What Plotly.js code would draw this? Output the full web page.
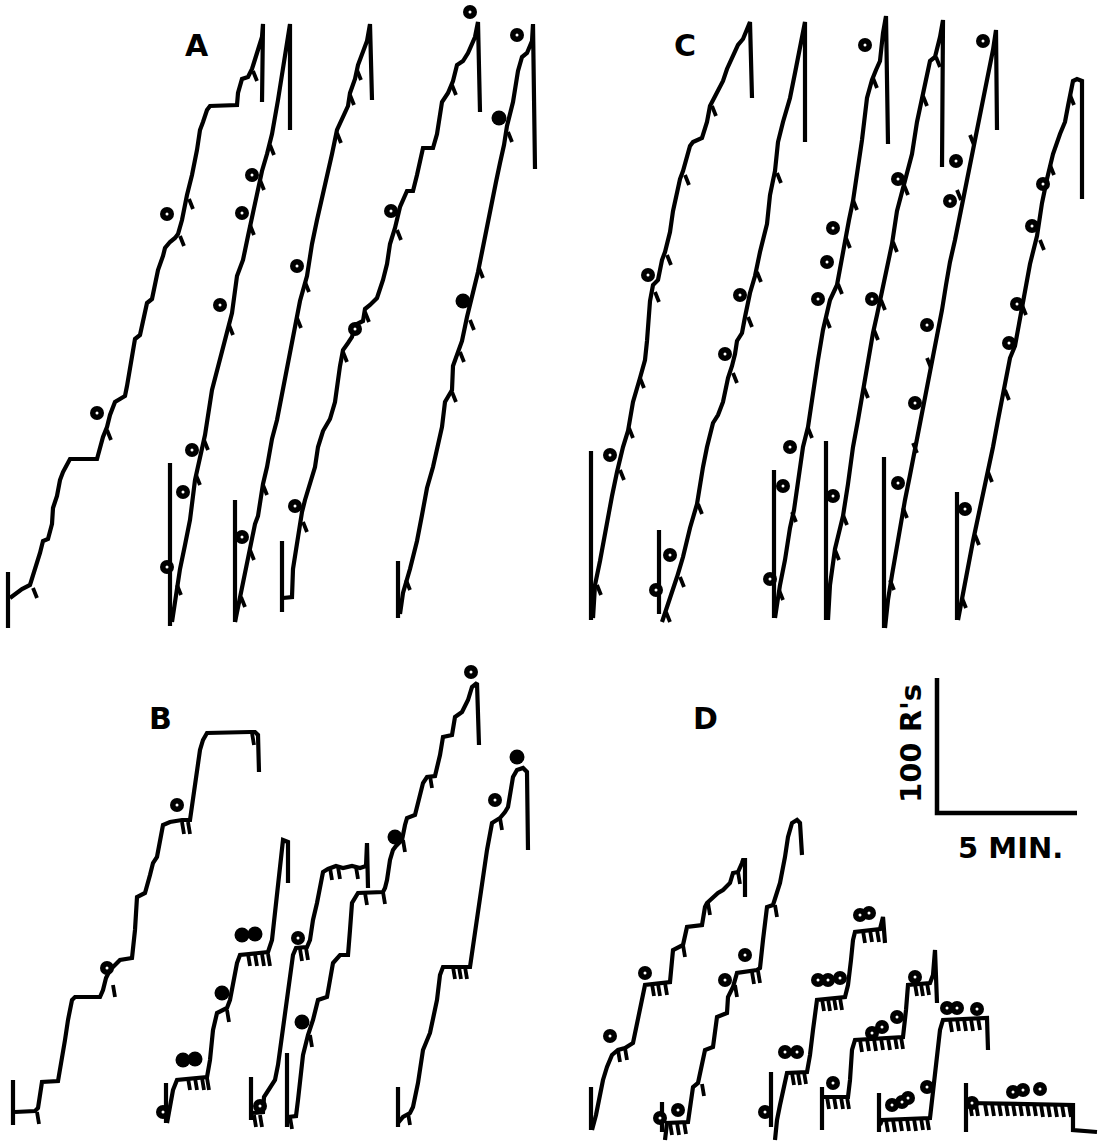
<!DOCTYPE html>
<html><head><meta charset="utf-8">
<script src="https://cdn.plot.ly/plotly-3.0.1.min.js"></script>
<style>html,body{margin:0;padding:0;background:#fff}#chart{width:1106px;height:1144px}</style>
</head><body><div id="chart"></div>
<script>
// Cumulative records in record-paper units
// (t = paper distance along time, n = paper position of the response pen; n grows downward on the sheet)

// ---------- Panel A ----------
const A1_t = [10,22,30,35,38,40,43,48,52,53,57,60,63,70,97,100,103,107,110,115,125,127,130,133,135,140,142,145,147,152,155,158,163,165,170,175,178,182,187,192,197,200,203,207,210,237,238,242,248,252,257,262,263,262];
const A1_n = [598,589,585,569,561,553,541,539,524,508,496,480,472,459,459,447,437,427,415,402,396,386,366,350,339,335,325,313,303,299,285,270,256,248,242,238,234,220,195,175,150,130,122,110,106,105,93,79,77,69,53,37,24,102];
const A2_t = [172,175,180,185,190,195,200,205,212,220,227,232,237,243,248,253,258,262,267,272,278,283,287,290,290];
const A2_n = [622,602,569,545,520,480,455,435,390,358,333,313,276,260,236,211,191,171,154,134,100,70,45,24,130];
const A3_t = [235,240,247,250,255,258,263,267,272,277,282,287,290,295,300,307,312,317,322,327,332,337,343,348,350,355,358,363,367,370,372];
const A3_n = [622,598,561,549,524,516,484,467,439,420,395,370,354,329,301,276,244,220,199,175,154,130,118,106,93,79,65,53,41,24,100];
const A4_t = [283,292,293,297,302,305,312,315,318,323,330,335,340,343,348,352,355,363,365,370,377,383,387,390,395,400,407,413,417,423,433,437,442,448,453,457,463,468,475,478,480];
const A4_n = [598,597,569,541,512,500,476,467,447,431,419,402,366,350,343,337,325,321,309,305,298,280,264,244,228,207,191,191,175,148,148,134,102,93,81,65,61,53,37,22,112];
const A5_t = [400,403,410,417,422,427,433,437,442,445,452,453,458,462,467,473,478,482,487,492,496,500,504,507,510,513,518,522,527,532,533,535];
const A5_n = [614,593,569,541,515,488,467,447,427,402,390,366,352,341,317,293,272,252,225,199,182,163,145,126,114,102,71,57,53,41,24,169];
const A_tick_t = [8,170,235,282,398];
const A_tick_top = [572,463,500,541,561];
const A_tick_bot = [628,626,622,612,618];
const A_pip_t = [33,107,180,189,253, 177,196,204,229,250,260,270, 241,250,263,297,305,337,350,357, 303,343,365,397,452, 406,452,460,470,479,508];
const A_pip_n = [588,430,236,199,71, 585,475,440,325,225,180,145, 597,550,485,318,282,133,95,70, 522,352,312,230,85, 580,392,352,320,268,132];
const A_ring_t = [97,167,167,183,192,220,242,252,242,297,295,355,391,470,517];
const A_ring_n = [413,214,567,492,450,305,213,175,537,266,506,329,211,12,35];
const A_fill_t = [499,463];
const A_fill_n = [118,301];

// ---------- Panel C ----------
const C1_t = [593,595,600,607,612,617,623,628,633,640,645,647,650,653,658,662,665,670,673,680,683,690,693,702,707,710,717,723,727,733,738,743,750,752];
const C1_n = [618,585,561,520,496,472,447,431,402,378,360,341,301,285,280,260,252,232,211,179,171,146,142,138,122,106,93,81,69,57,45,39,22,98];
const C2_t = [662,665,670,677,683,690,697,703,707,713,718,723,728,732,735,737,742,745,750,755,760,767,770,775,778,783,790,795,800,805,805];
const C2_n = [622,614,598,577,557,528,504,467,447,423,415,402,378,366,354,341,333,317,293,276,252,224,195,171,142,122,98,73,49,22,142];
const C3_t = [775,777,780,785,790,794,797,800,803,808,813,818,823,830,837,841,845,849,853,857,862,867,872,876,880,883,886,888];
const C3_n = [618,605,585,560,528,510,488,468,447,427,390,360,330,300,285,262,240,220,201,175,140,98,80,70,61,33,16,144];
const C4_t = [828,830,835,840,843,848,853,858,863,868,873,877,880,884,887,892,897,903,908,912,917,922,926,930,935,940,943,942];
const C4_n = [620,585,549,530,516,484,447,420,390,360,333,315,301,285,272,244,211,187,170,154,122,98,80,61,57,37,20,167];
const C5_t = [885,888,892,896,900,905,910,915,920,924,928,933,938,942,946,950,955,959,963,967,971,975,979,983,987,990,993,996,997];
const C5_n = [628,600,575,550,525,500,475,450,425,405,380,355,330,310,285,262,240,218,200,180,160,140,118,100,82,65,50,30,130];
const C6_t = [958,962,967,973,980,987,993,998,1003,1010,1015,1020,1025,1030,1037,1042,1047,1053,1060,1065,1068,1073,1077,1082,1082];
const C6_n = [620,598,575,541,508,476,447,420,394,358,346,317,293,264,236,203,179,154,134,122,106,81,79,81,199];
const C_tick_t = [591,659,774,826,884,957];
const C_tick_top = [451,530,470,441,457,492];
const C_tick_bot = [620,614,618,620,628,620];
const C_pip_t = [597,620,629,640,655,667,685,712, 666,680,698,733,748,757,777, 779,792,808,826,838,846,853,873, 835,843,864,874,881,893,904,923,936, 890,903,913,927,957,970, 962,975,988,1005,1022,1040,1050,1070];
const C_pip_n = [585,470,428,378,292,255,175,106, 612,577,504,373,317,272,173, 590,512,428,318,284,238,200,78, 550,515,388,330,300,242,185,96,57, 580,508,443,358,190,135, 598,535,472,390,305,240,165,95];
const C_ring_t = [610,648,656,670,725,740,770,783,790,818,827,833,865,833,872,898,898,915,927,950,956,983,965,1009,1017,1032,1043];
const C_ring_n = [455,275,590,555,354,295,579,486,447,299,262,228,45,496,299,179,483,403,325,201,161,41,509,343,304,226,184];

// ---------- Panel B ----------
const B1_t = [15,35,38,40,42,58,62,65,68,72,75,100,103,106,110,120,132,135,137,145,150,153,157,160,163,170,182,190,193,197,200,203,207,250,255,258,259];
const B1_n = [1112,1111,1108,1095,1082,1081,1060,1040,1020,1000,997,997,990,978,970,960,958,930,897,893,875,863,857,840,825,822,820,820,800,770,750,740,733,732,732,735,772];
const B2_t = [167,170,173,177,207,210,213,217,222,227,230,233,237,240,268,272,275,278,281,283,288,288];
const B2_n = [1123,1105,1090,1080,1077,1060,1030,1013,1010,1008,1000,983,963,955,952,940,915,890,860,840,842,883];
const B3_t = [252,263,264,270,275,278,282,286,290,293,296,307,310,313,317,320,323,328,336,343,352,360,366,367,368];
const B3_n = [1113,1112,1097,1088,1080,1065,1035,1005,975,955,948,947,940,920,903,885,872,869,866,868,866,868,866,843,888];
const B4_t = [288,296,298,301,303,308,313,318,327,330,333,340,348,350,352,358,383,385,387,390,393,396,402,405,407,415,420,423,427,435,440,443,452,455,462,468,472,477,479];
const B4_n = [1117,1116,1100,1075,1055,1035,1020,1000,997,980,963,955,955,930,903,893,892,888,880,860,850,846,840,825,818,815,795,783,777,776,755,737,735,717,712,700,687,683,745];
const B5_t = [398,403,410,413,418,423,430,433,437,440,443,470,474,477,482,487,492,500,505,508,513,517,523,527,528];
const B5_n = [1123,1117,1113,1107,1083,1050,1033,1017,1000,975,967,967,940,917,890,850,823,818,812,807,777,770,768,772,850];
const B_tick_t = [13,166,251,287,398];
const B_tick_top = [1080,1083,1077,1053,1087];
const B_tick_bot = [1125,1123,1120,1127,1127];
const B_pip_t = [37,113,182,188,252, 188,195,202,207,227,248,255,262,268, 254,260,300,306,330,338,356, 290,310,365,383,403,430, 408,453,459,465,500];
const B_pip_n = [1112,985,822,822,733, 1078,1078,1078,1078,1010,954,954,954,954, 1115,1115,949,948,868,867,867, 1117,1035,893,892,840,776, 1113,967,967,967,818];
const B_ring_t = [107,177,163,260,298,471,495];
const B_ring_n = [968,805,1112,1106,938,672,800];
const B_fill_t = [183,195,222,242,255,302,395,517];
const B_fill_n = [1060,1059,993,935,934,1022,837,757];

// ---------- Panel D ----------
const D1_t = [592,596,600,603,607,612,618,625,633,638,642,645,670,673,683,687,702,705,707,718,723,730,733,738,742,743,745,745];
const D1_n = [1130,1115,1095,1080,1067,1055,1050,1048,1043,1020,1003,985,982,950,945,927,925,907,903,893,890,883,873,872,863,860,860,897];
const D2_t = [665,667,688,690,693,698,705,713,717,727,728,733,737,757,760,763,767,773,780,785,788,792,797,800,802];
const D2_n = [1140,1123,1122,1110,1087,1083,1050,1047,1017,1013,997,987,973,970,968,940,907,905,883,857,837,823,820,823,855];
const D3_t = [775,777,780,784,787,807,810,813,817,845,848,851,853,855,880,883,885];
const D3_n = [1140,1120,1105,1085,1073,1072,1055,1030,1000,997,985,960,940,932,929,917,943];
const D4_t = [823,848,850,852,855,903,906,908,930,933,935,937];
const D4_n = [1097,1097,1080,1050,1040,1037,1010,985,983,975,950,1003];
const D5_t = [880,882,930,933,936,940,943,987,988];
const D5_n = [1125,1120,1118,1090,1060,1030,1020,1018,1050];
const D6_t = [967,1073,1073,1097];
const D6_n = [1103,1105,1130,1132];
const D_tick_t = [591,662,771,822,879,966];
const D_tick_top = [1087,1102,1072,1087,1093,1083];
const D_tick_bot = [1130,1132,1127,1130,1132,1132];
const D_pip_t = [618,625,652,658,665,683,708,738, 670,677,684,702,735,752,758,775, 792,798,804,822,828,834,840,863,870,877, 827,834,841,847,860,867,874,881,888,895,901,915,921,927, 886,893,900,907,914,921,927,950,957,964,971,978, 970,976,985,992,999,1006,1013,1020,1027,1034,1041,1048,1055,1062,1069];
const D_pip_n = [1050,1048,984,984,983,945,903,872, 1123,1123,1122,1084,985,972,971,905, 1073,1073,1072,999,999,998,998,931,930,930, 1097,1097,1097,1097,1040,1039,1039,1038,1038,1037,1037,984,984,983, 1120,1120,1119,1119,1119,1118,1118,1020,1019,1019,1019,1018, 1104,1104,1104,1104,1104,1104,1104,1104,1104,1104,1105,1105,1105,1105,1105];
const D_ring_t = [610,645,660,678,725,745,765,785,797,818,828,840,860,869,833,872,882,897,915,892,902,908,927,947,957,977,972,1013,1023,1040];
const D_ring_n = [1036,973,1118,1110,980,955,1112,1052,1052,980,980,978,915,913,1083,1033,1027,1017,977,1105,1102,1098,1087,1008,1008,1009,1103,1092,1090,1089];

// ---------- Scale bar ----------
const scale_t = [937,937,1077];
const scale_n = [678,813,813];
const panelLabels = ['A','C','B','D'];
const panelLabel_t = [197,685,160,705];
const panelLabel_n = [45,45,718,718];

// ---------- drawing ----------
const INK = '#000';
const LW = 4.2;
const traces = [];
function curve(t, n){ traces.push({x:t, y:n, mode:'lines', line:{color:INK, width:LW}, hoverinfo:'skip'}); }
function segs(xs1, ys1, xs2, ys2, w){
  const x=[], y=[];
  for(let i=0;i<xs1.length;i++){ x.push(xs1[i], xs2[i], null); y.push(ys1[i], ys2[i], null); }
  traces.push({x, y, mode:'lines', line:{color:INK, width:w||LW}, hoverinfo:'skip'});
}
function ticks(t, top, bot){ segs(t, top, t, bot); }
function pips(t, n, dx, dy){ segs(t, n, t.map(v=>v+dx), n.map(v=>v+dy), 3.8); }
function rings(t, n){
  traces.push({x:t, y:n, mode:'markers', marker:{color:INK, size:14, line:{width:0}}, hoverinfo:'skip'});
  traces.push({x:t, y:n, mode:'markers', marker:{color:'#fff', size:3, line:{width:0}}, hoverinfo:'skip'});
}
function fills(t, n){ traces.push({x:t, y:n, mode:'markers', marker:{color:INK, size:15, line:{width:0}}, hoverinfo:'skip'}); }

[[A1_t,A1_n],[A2_t,A2_n],[A3_t,A3_n],[A4_t,A4_n],[A5_t,A5_n],
 [C1_t,C1_n],[C2_t,C2_n],[C3_t,C3_n],[C4_t,C4_n],[C5_t,C5_n],[C6_t,C6_n],
 [B1_t,B1_n],[B2_t,B2_n],[B3_t,B3_n],[B4_t,B4_n],[B5_t,B5_n],
 [D1_t,D1_n],[D2_t,D2_n],[D3_t,D3_n],[D4_t,D4_n],[D5_t,D5_n],[D6_t,D6_n]].forEach(c=>curve(c[0],c[1]));
ticks(A_tick_t,A_tick_top,A_tick_bot);
ticks(C_tick_t,C_tick_top,C_tick_bot);
ticks(B_tick_t,B_tick_top,B_tick_bot);
ticks(D_tick_t,D_tick_top,D_tick_bot);
pips(A_pip_t,A_pip_n,4,10);
pips(C_pip_t,C_pip_n,4,10);
pips(B_pip_t,B_pip_n,2,12);
pips(D_pip_t,D_pip_n,2,12);
rings(A_ring_t,A_ring_n); fills(A_fill_t,A_fill_n);
rings(C_ring_t,C_ring_n);
rings(B_ring_t,B_ring_n); fills(B_fill_t,B_fill_n);
rings(D_ring_t,D_ring_n);
traces.push({x:scale_t, y:scale_n, mode:'lines', line:{color:INK, width:4.5}, hoverinfo:'skip'});

const FONT = 'DejaVu Sans, Liberation Sans, sans-serif';
const annotations = panelLabels.map((s,i)=>({x:panelLabel_t[i], y:panelLabel_n[i], xref:'x', yref:'y', text:'<b>'+s+'</b>', showarrow:false, font:{family:FONT, size:30, color:INK}}));
annotations.push({x:911, y:744, xref:'x', yref:'y', text:"<b>100 R's</b>", textangle:-90, showarrow:false, font:{family:FONT, size:29, color:INK}});
annotations.push({x:1010, y:848, xref:'x', yref:'y', text:'<b>5 MIN.</b>', showarrow:false, font:{family:FONT, size:29, color:INK}});

const layout = {
  width:1106, height:1144, margin:{l:0,r:0,t:0,b:0},
  paper_bgcolor:'#fff', plot_bgcolor:'#fff', showlegend:false,
  xaxis:{range:[0,1106], visible:false, fixedrange:true},
  yaxis:{range:[1144,0], visible:false, fixedrange:true},
  annotations
};
Plotly.newPlot('chart', traces, layout, {staticPlot:true, displayModeBar:false});
</script>
</body></html>
